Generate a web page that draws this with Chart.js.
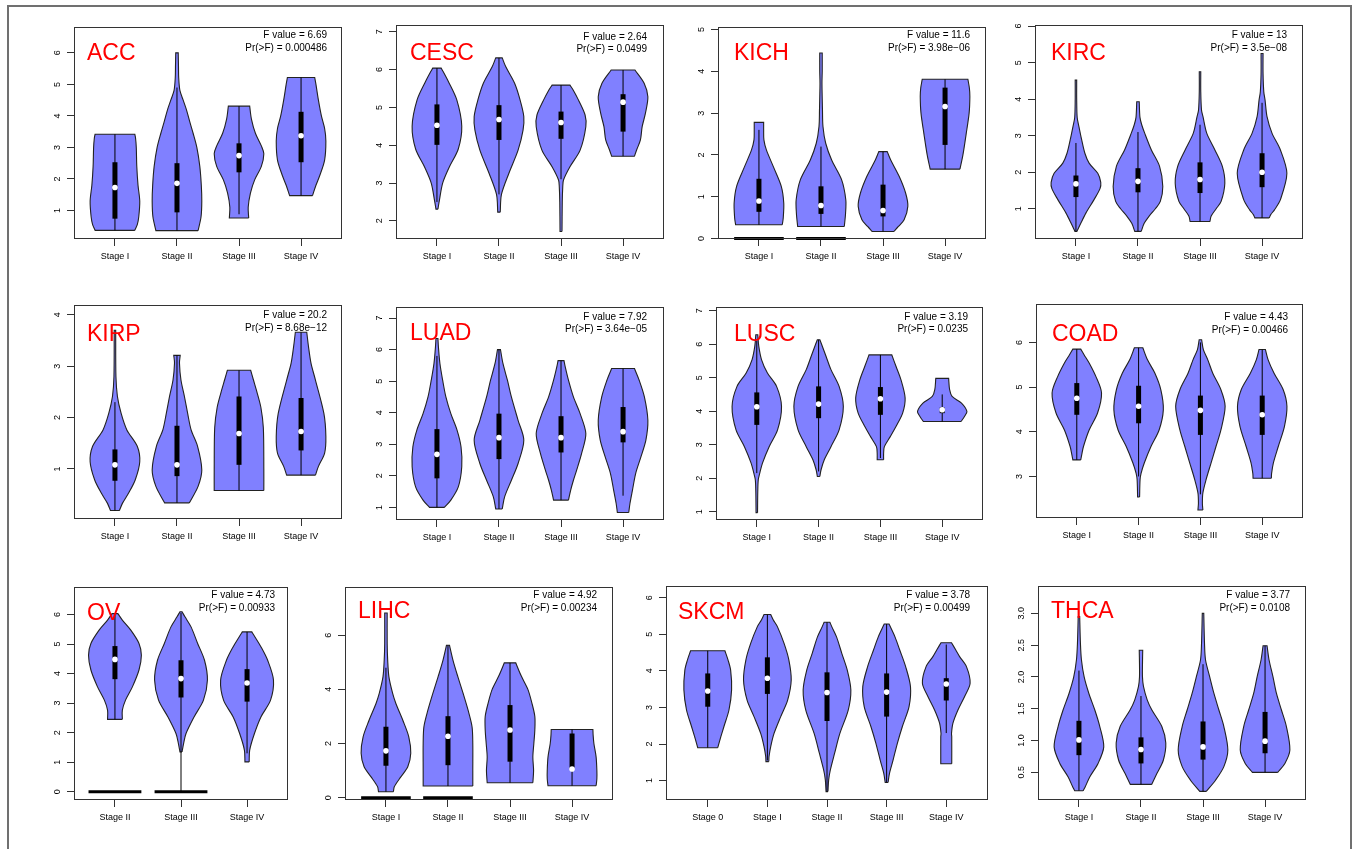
<!DOCTYPE html>
<html><head><meta charset="utf-8">
<script src="https://cdn.jsdelivr.net/npm/chart.js@4.4.1/dist/chart.umd.min.js"></script>
<style>
html,body{margin:0;padding:0;background:#fff;}
body{width:1354px;height:849px;position:relative;overflow:hidden;}
#frame{position:absolute;left:7px;top:5px;width:1345px;height:870px;border:2px solid #707070;box-sizing:border-box;}
canvas{position:absolute;}
</style></head><body><div id="frame"></div>
<script>
// ---------------- DATA ----------------
const cancerNames = ['ACC','CESC','KICH','KIRC','KIRP','LUAD','LUSC','COAD','OV','LIHC','SKCM','THCA'];
const stages4 = ['Stage I','Stage II','Stage III','Stage IV'];
const stagesOV = ['Stage II','Stage III','Stage IV'];
const stagesSKCM = ['Stage 0','Stage I','Stage II','Stage III','Stage IV'];
const stageLabels = [stages4,stages4,stages4,stages4,stages4,stages4,stages4,stages4,stagesOV,stages4,stagesSKCM,stages4];
const fValues = ['6.69','2.64','11.6','13','20.2','7.92','3.19','4.43','4.73','4.92','3.78','3.77'];
const pValues = ['0.000486','0.0499','3.98e\u221206','3.5e\u221208','8.68e\u221212','3.64e\u221205','0.0235','0.00466','0.00933','0.00234','0.00499','0.0108'];
const yTicks = [[1,2,3,4,5,6],[2,3,4,5,6,7],[0,1,2,3,4,5],[1,2,3,4,5,6],[1,2,3,4],[1,2,3,4,5,6,7],[1,2,3,4,5,6,7],[3,4,5,6],[0,1,2,3,4,5,6],[0,2,4,6],[1,2,3,4,5,6],[0.5,1,1.5,2,2.5,3]];
const yTickLabels = [['1','2','3','4','5','6'],['2','3','4','5','6','7'],['0','1','2','3','4','5'],['1','2','3','4','5','6'],['1','2','3','4'],['1','2','3','4','5','6','7'],['1','2','3','4','5','6','7'],['3','4','5','6'],['0','1','2','3','4','5','6'],['0','2','4','6'],['1','2','3','4','5','6'],['0.5','1.0','1.5','2.0','2.5','3.0']];
const yRanges = [[0.095,6.82],[1.52,7.18],[-0.01,5.06],[0.172,6.03],[0.026,4.19],[0.6,7.35],[0.75,7.11],[2.07,6.86],[-0.28,6.93],[-0.085,7.78],[0.47,6.32],[0.065,3.43]];

const q1Values = [[0.74,0.94,2.21,2.53],[4.01,4.14,4.17,4.36],[0.64,0.59,0.53,2.24],[1.32,1.45,1.43,1.59],[0.77,0.86,1.08,1.36],[1.92,2.53,2.74,3.06],[3.59,3.79,3.89,3.94],[4.38,4.19,3.93,3.93],[3.81,3.19,3.05],[1.18,1.2,1.33,1.08],[3.02,3.37,2.63,2.75,3.19],[0.77,0.64,0.7,0.8]];
const medianValues = [[1.73,1.86,2.74,3.37],[4.53,4.68,4.6,5.14],[0.9,0.79,0.67,3.16],[1.68,1.75,1.8,2.0],[1.08,1.08,1.69,1.73],[2.68,3.21,3.21,3.4],[4.13,4.21,4.37,4.04],[4.75,4.57,4.48,4.38],[4.48,3.83,3.68],[1.73,2.27,2.5,1.06],[3.45,3.8,3.41,3.42,3.64],[1.01,0.86,0.9,0.99]];
const q3Values = [[2.53,2.5,3.13,4.13],[5.08,5.06,4.89,5.35],[1.43,1.25,1.29,3.61],[1.91,2.11,2.27,2.52],[1.38,1.84,2.41,2.38],[3.48,3.97,3.89,4.18],[4.56,4.74,4.72,4.11],[5.09,5.03,4.81,4.81],[4.93,4.45,4.15],[2.62,3.01,3.42,2.37],[3.93,4.37,3.96,3.93,3.8],[1.31,1.05,1.3,1.45]];
const whiskerLow = [[0.37,0.36,0.88,1.47],[2.5,2.7,3.1,3.71],[0.33,0.29,0.17,1.66],[0.38,0.38,0.65,0.75],[0.19,0.34,0.58,0.88],[1.0,0.95,1.23,1.37],[2.15,2.2,2.6,3.69],[3.37,3.0,2.6,2.96],[2.45,0,1.3],[0.22,0.43,0.55,0.44],[1.9,1.55,0.7,0.95,2.3],[0.21,0.31,0.2,0.5]];
const whiskerHigh = [[3.42,4.9,4.31,5.22],[6.04,6.31,5.59,5.99],[2.6,2.2,2.08,3.81],[2.8,3.1,3.3,3.9],[2.3,3.21,2.92,3.66],[5.8,6.0,5.65,5.4],[6.1,6.13,5.68,4.5],[5.85,5.88,6.0,5.84],[6.03,6.06,5.41],[4.8,5.63,4.98,2.52],[4.55,5.54,5.33,5.28,4.72],[2.1,1.7,2.2,2.49]];
// groups that also have a zero-valued (flat) violin at y = 0
const zeroGroups = [[],[],[0,1],[],[],[],[],[],[0,1],[0,1],[],[]];

// density outlines: [value, relative half-width (1 = widest)]
const densityACC = [
 [[0.37,0.8],[0.55,0.9],[0.8,0.96],[1.3,1.0],[1.8,0.93],[2.4,0.88],[3.0,0.86],[3.3,0.83],[3.42,0.8]],
 [[0.36,0.85],[0.8,0.97],[1.3,1.0],[1.8,0.98],[2.4,0.92],[3.0,0.8],[3.45,0.65],[3.8,0.52],[4.2,0.38],[4.5,0.25],[4.8,0.12],[5.2,0.07],[5.6,0.06],[6.0,0.05]],
 [[0.76,0.39],[1.1,0.37],[1.55,0.46],[1.97,0.63],[2.4,0.9],[2.8,1.0],[3.05,0.9],[3.45,0.66],[3.9,0.5],[4.31,0.43]],
 [[1.47,0.46],[1.8,0.6],[2.1,0.75],[2.6,0.95],[3.2,1.0],[3.6,0.95],[4.0,0.82],[4.5,0.7],[5.0,0.6],[5.22,0.55]]
];
const densityCESC = [
 [[2.31,0.04],[2.55,0.1],[3.0,0.23],[3.4,0.48],[3.9,0.86],[4.5,1.0],[5.2,0.8],[5.7,0.45],[5.95,0.25],[6.04,0.17]],
 [[2.23,0.05],[2.7,0.1],[3.26,0.4],[3.87,0.77],[4.4,0.97],[4.76,1.0],[5.2,0.85],[5.64,0.63],[6.08,0.27],[6.31,0.13]],
 [[1.72,0.04],[2.5,0.05],[2.9,0.07],[3.08,0.1],[3.43,0.36],[3.87,0.77],[4.49,1.0],[4.8,0.97],[5.2,0.7],[5.45,0.5],[5.59,0.36]],
 [[3.71,0.46],[3.88,0.55],[4.14,0.7],[4.49,0.77],[4.84,0.9],[5.28,1.0],[5.64,0.85],[5.99,0.48]]
];
const densityKICH = [
 [[0.33,0.94],[0.5,0.98],[0.85,1.0],[1.25,0.9],[1.72,0.58],[2.12,0.3],[2.36,0.2],[2.6,0.19],[2.78,0.19]],
 [[0.29,0.94],[0.6,0.99],[0.93,1.0],[1.41,0.83],[1.88,0.43],[2.28,0.19],[2.68,0.08],[3.08,0.06],[3.71,0.04],[4.0,0.05],[4.44,0.05]],
 [[0.17,0.44],[0.29,0.62],[0.45,0.85],[0.77,1.0],[1.09,0.91],[1.49,0.65],[1.88,0.31],[2.08,0.17]],
 [[1.66,0.6],[2.0,0.72],[2.5,0.85],[3.0,0.97],[3.4,1.0],[3.6,0.98],[3.81,0.92]]
];
const densityKIRC = [
 [[0.38,0.04],[0.61,0.2],[0.88,0.4],[1.25,0.73],[1.55,0.97],[1.72,1.0],[1.97,0.88],[2.25,0.53],[2.52,0.36],[2.89,0.23],[3.25,0.12],[3.5,0.05],[4.0,0.03],[4.52,0.03]],
 [[0.38,0.13],[0.6,0.25],[0.8,0.45],[1.0,0.7],[1.2,0.9],[1.61,1.0],[2.16,0.87],[2.61,0.54],[3.07,0.27],[3.3,0.15],[3.5,0.08],[3.93,0.05]],
 [[0.65,0.4],[0.8,0.45],[1.0,0.65],[1.2,0.85],[1.7,1.0],[2.16,0.9],[2.61,0.6],[3.07,0.27],[3.52,0.12],[3.7,0.06],[4.2,0.03],[4.75,0.03]],
 [[0.75,0.29],[0.84,0.35],[0.97,0.5],[1.25,0.74],[1.97,1.0],[2.61,0.74],[3.07,0.4],[3.52,0.2],[3.98,0.12],[4.2,0.07],[4.7,0.04],[5.25,0.04]]
];
const densityKIRP = [
 [[0.19,0.18],[0.33,0.3],[0.53,0.55],[0.79,0.82],[1.14,1.0],[1.44,0.9],[1.76,0.48],[2.08,0.25],[2.41,0.1],[2.8,0.04],[3.7,0.03]],
 [[0.34,0.5],[0.66,0.85],[0.98,1.0],[1.44,0.83],[1.76,0.57],[2.08,0.43],[2.41,0.3],[2.73,0.16],[3.06,0.1],[3.21,0.13]],
 [[0.58,1.0],[1.0,1.0],[1.8,0.98],[2.2,0.88],[2.5,0.72],[2.75,0.57],[2.92,0.47]],
 [[0.88,0.58],[1.05,0.7],[1.31,0.95],[1.63,1.0],[2.08,0.92],[2.73,0.58],[3.06,0.4],[3.38,0.3],[3.66,0.23]]
];
const densityLUAD = [
 [[1.0,0.3],[1.23,0.56],[1.65,0.86],[2.29,1.0],[2.92,0.97],[3.45,0.81],[3.97,0.56],[4.5,0.36],[5.03,0.23],[5.56,0.12],[6.08,0.06],[6.35,0.04]],
 [[0.95,0.13],[1.34,0.23],[1.86,0.5],[2.39,0.77],[3.13,1.0],[3.76,0.77],[4.5,0.5],[5.03,0.34],[5.56,0.16],[6.0,0.06]],
 [[1.23,0.3],[1.55,0.39],[1.86,0.5],[2.18,0.63],[2.71,0.83],[3.34,1.0],[3.97,0.77],[4.5,0.5],[5.03,0.3],[5.45,0.17],[5.65,0.12]],
 [[0.84,0.23],[1.13,0.28],[1.55,0.38],[2.08,0.51],[2.6,0.72],[3.13,0.92],[3.76,1.0],[4.5,0.86],[5.03,0.65],[5.4,0.46]]
];
const densityLUSC = [
 [[0.97,0.03],[1.6,0.04],[1.95,0.06],[2.15,0.12],[2.45,0.23],[2.94,0.5],[3.44,0.84],[4.14,1.0],[4.74,0.8],[5.14,0.43],[5.54,0.19],[5.94,0.08],[6.28,0.04]],
 [[2.05,0.05],[2.25,0.1],[2.55,0.23],[2.94,0.5],[3.44,0.83],[4.14,1.0],[4.74,0.83],[5.24,0.5],[5.64,0.3],[5.94,0.15],[6.13,0.05]],
 [[2.55,0.13],[2.74,0.13],[2.94,0.16],[3.24,0.4],[3.54,0.63],[3.94,0.9],[4.39,1.0],[4.94,0.83],[5.34,0.63],[5.68,0.46]],
 [[3.69,0.76],[3.84,0.9],[3.99,1.0],[4.24,0.78],[4.44,0.4],[4.64,0.3],[4.98,0.26]]
];
const densityCOAD = [
 [[3.37,0.16],[3.49,0.2],[3.67,0.27],[4.04,0.5],[4.42,0.84],[4.87,1.0],[5.24,0.77],[5.54,0.5],[5.72,0.3],[5.85,0.16]],
 [[2.54,0.04],[2.93,0.06],[3.07,0.1],[3.3,0.23],[3.67,0.5],[4.04,0.83],[4.49,1.0],[4.94,0.9],[5.31,0.66],[5.61,0.36],[5.88,0.17]],
 [[2.25,0.1],[2.4,0.08],[2.63,0.1],[2.93,0.23],[3.3,0.43],[3.67,0.63],[4.04,0.83],[4.57,1.0],[4.94,0.83],[5.31,0.5],[5.61,0.3],[5.84,0.12],[6.06,0.05]],
 [[2.96,0.37],[3.07,0.38],[3.3,0.45],[3.67,0.65],[4.12,0.9],[4.57,1.0],[4.94,0.85],[5.31,0.48],[5.61,0.24],[5.84,0.13]]
];
const densityOV = [
 [[2.45,0.28],[2.76,0.28],[3.1,0.4],[3.55,0.66],[4.12,0.91],[4.62,1.0],[5.02,0.91],[5.47,0.6],[5.81,0.28],[6.03,0.11]],
 [[1.35,0.04],[1.64,0.1],[1.97,0.19],[2.54,0.5],[3.1,0.85],[3.78,1.0],[4.45,0.89],[5.02,0.63],[5.58,0.38],[5.92,0.15],[6.09,0.04]],
 [[1.01,0.08],[1.41,0.1],[1.97,0.28],[2.54,0.53],[3.1,0.89],[3.78,1.0],[4.45,0.78],[4.9,0.53],[5.24,0.3],[5.41,0.18]]
];
const densityLIHC = [
 [[0.22,0.3],[0.41,0.34],[0.77,0.6],[1.14,0.88],[1.64,1.0],[2.25,0.92],[2.86,0.68],[3.48,0.4],[3.85,0.27],[4.46,0.12],[5.08,0.07],[5.69,0.05],[6.82,0.05]],
 [[0.43,1.0],[1.0,1.0],[2.0,1.0],[2.62,0.97],[3.23,0.81],[3.85,0.61],[4.46,0.4],[5.08,0.2],[5.63,0.06]],
 [[0.55,0.92],[1.0,0.95],[1.5,0.92],[2.0,0.96],[2.5,1.0],[3.0,1.0],[3.5,0.88],[4.0,0.72],[4.5,0.45],[4.98,0.23]],
 [[0.44,0.97],[0.7,1.0],[1.0,1.0],[1.5,0.97],[2.0,0.88],[2.3,0.85],[2.52,0.84]]
];
const densitySKCM = [
 [[1.9,0.42],[2.2,0.55],[2.48,0.68],[2.93,0.89],[3.48,1.0],[4.02,0.96],[4.3,0.85],[4.55,0.72]],
 [[1.52,0.06],[1.66,0.07],[1.93,0.14],[2.29,0.28],[2.75,0.56],[3.2,0.85],[3.75,1.0],[4.3,0.9],[4.75,0.7],[5.21,0.42],[5.39,0.25],[5.54,0.14]],
 [[0.7,0.04],[1.02,0.07],[1.29,0.14],[1.75,0.32],[2.29,0.54],[2.93,0.89],[3.48,1.0],[4.02,0.85],[4.48,0.62],[4.93,0.4],[5.21,0.2],[5.33,0.12]],
 [[0.95,0.06],[1.2,0.12],[1.56,0.27],[2.02,0.45],[2.48,0.66],[3.02,0.94],[3.57,1.0],[4.11,0.8],[4.57,0.55],[4.93,0.35],[5.28,0.1]],
 [[1.46,0.23],[2.2,0.23],[2.29,0.22],[2.57,0.28],[2.93,0.49],[3.3,0.77],[3.66,1.0],[4.11,0.85],[4.39,0.56],[4.57,0.4],[4.77,0.22]]
];
const densityTHCA = [
 [[0.21,0.17],[0.27,0.25],[0.43,0.44],[0.64,0.77],[0.9,1.0],[1.22,0.84],[1.48,0.64],[1.74,0.4],[2.0,0.21],[2.27,0.1],[2.53,0.06],[2.95,0.03]],
 [[0.31,0.43],[0.48,0.64],[0.69,0.9],[0.96,1.0],[1.22,0.84],[1.48,0.44],[1.64,0.25],[1.85,0.1],[2.0,0.06],[2.2,0.06],[2.42,0.07]],
 [[0.2,0.13],[0.38,0.51],[0.59,0.84],[0.85,1.0],[1.22,0.84],[1.48,0.64],[1.74,0.44],[2.0,0.27],[2.27,0.1],[2.53,0.06],[3.0,0.03]],
 [[0.5,0.51],[0.64,0.8],[0.85,1.0],[1.22,0.86],[1.48,0.66],[1.74,0.46],[2.0,0.32],[2.27,0.16],[2.49,0.08]]
];
const densities = [densityACC,densityCESC,densityKICH,densityKIRC,densityKIRP,densityLUAD,densityLUSC,densityCOAD,densityOV,densityLIHC,densitySKCM,densityTHCA];

// ---------------- LAYOUT (page pixels) ----------------
const panelBoxes = [[74,27,342,239],[396,25,664,239],[718,27,986,239],[1035,25,1303,239],
                    [74,305,342,519],[396,307,664,520],[716,307,983,520],[1036,304,1303,518],
                    [74,587,288,800],[345,587,613,800],[666,586,988,800],[1038,586,1306,800]];
const titlePos = [[87,59.5],[410,59.5],[734,59.5],[1051,59.5],[87,340.5],[410,340],[734,340.5],[1052,340.5],[87,620],[358,618],[678,619],[1051,618]];
const statPos = [[327,38],[647,39.6],[970,38],[1287,38],[327,318],[647,319.6],[968,319.6],[1288,320.3],[275,598],[597,598],[970,598],[1290,598]];

const PADL = 45, PADT = 16, PADR = 16, PADB = 30;
const FONT = '"Liberation Sans", Arial, Helvetica, sans-serif';
const VIOLIN_FILL = 'rgb(128,128,255)';
const HALF = 0.4;

Chart.defaults.font.family = FONT;

const measureCtx = document.createElement('canvas').getContext('2d');
measureCtx.font = '9px ' + FONT;

function violinPoints(profile, c) {
  const right = profile.map(p => ({x: c + p[1] * HALF, y: p[0]}));
  const left = profile.slice().reverse().map(p => ({x: c - p[1] * HALF, y: p[0]}));
  const r0 = right[0], rn = right[right.length - 1];
  const ln = left[0], l0 = left[left.length - 1];
  return [r0].concat(right, [rn], [ln], left, [l0], [r0]);
}

function decorPlugin(i, offX, offY) {
  return {
    id: 'decor' + i,
    afterDraw(chart) {
      const ctx = chart.ctx, a = chart.chartArea;
      ctx.save();
      ctx.strokeStyle = '#333';
      ctx.lineWidth = 1;
      ctx.strokeRect(a.left + 0.5, a.top + 0.5, a.right - a.left - 1, a.bottom - a.top - 1);
      ctx.fillStyle = '#ff0000';
      ctx.font = '23px ' + FONT;
      ctx.textAlign = 'left';
      ctx.textBaseline = 'alphabetic';
      ctx.fillText(cancerNames[i], titlePos[i][0] - offX, titlePos[i][1] - offY);
      ctx.fillStyle = '#000';
      ctx.font = '10px ' + FONT;
      ctx.textAlign = 'right';
      ctx.fillText('F value = ' + fValues[i], statPos[i][0] - offX, statPos[i][1] - offY);
      ctx.fillText('Pr(>F) = ' + pValues[i], statPos[i][0] - offX, statPos[i][1] + 12.5 - offY);
      ctx.restore();
    }
  };
}

for (let i = 0; i < 12; i++) {
  const [L, T, R, B] = panelBoxes[i];
  const W = R - L + PADL + PADR, H = B - T + PADT + PADB;
  const cv = document.createElement('canvas');
  cv.width = W; cv.height = H;
  cv.style.left = (L - PADL) + 'px'; cv.style.top = (T - PADT) + 'px';
  cv.style.width = W + 'px'; cv.style.height = H + 'px';
  document.body.appendChild(cv);

  const labels = stageLabels[i];
  const n = labels.length;
  const datasets = [];
  densities[i].forEach((prof, k) => {
    datasets.push({data: violinPoints(prof, k + 1), fill: 'shape', backgroundColor: VIOLIN_FILL,
      borderColor: '#222', borderWidth: 1.1, pointRadius: 0, tension: 0.3, order: 5});
  });
  zeroGroups[i].forEach(k => {
    datasets.push({data: [{x: k + 1 - HALF, y: 0}, {x: k + 1 + HALF, y: 0}], borderColor: '#000',
      borderWidth: 3, pointRadius: 0, fill: false, order: 4, clip: false, borderCapStyle: 'butt'});
  });
  for (let k = 0; k < n; k++) {
    const c = k + 1;
    datasets.push({data: [{x: c, y: whiskerLow[i][k]}, {x: c, y: whiskerHigh[i][k]}], borderColor: '#000',
      borderWidth: 1, pointRadius: 0, fill: false, order: 3});
    datasets.push({data: [{x: c, y: q1Values[i][k]}, {x: c, y: q3Values[i][k]}], borderColor: '#000',
      borderWidth: 5, pointRadius: 0, fill: false, order: 2, borderCapStyle: 'butt'});
    datasets.push({data: [{x: c, y: medianValues[i][k]}], showLine: false, pointRadius: 2.8,
      pointBackgroundColor: '#fff', pointBorderColor: '#fff', pointBorderWidth: 0, order: 1});
  }

  let widest = 0;
  yTickLabels[i].forEach(s => { widest = Math.max(widest, measureCtx.measureText(s).width); });

  new Chart(cv, {
    type: 'line',
    data: {datasets},
    options: {
      responsive: false, animation: false, events: [],
      layout: {padding: {left: 0, top: PADT, right: PADR, bottom: 0}},
      plugins: {legend: {display: false}, tooltip: {enabled: false}},
      scales: {
        x: {
          type: 'linear', min: 0.5 - 0.04 * n, max: n + 0.5 + 0.04 * n,
          afterBuildTicks: s => { s.ticks = labels.map((_, k) => ({value: k + 1})); },
          afterFit: s => { s.height = PADB; },
          ticks: {autoSkip: false, minRotation: 0, maxRotation: 0, padding: 5, color: '#000',
            font: {size: 9, family: FONT}, callback: v => labels[Math.round(v) - 1]},
          grid: {drawOnChartArea: false, drawTicks: true, tickLength: 7, color: '#333', lineWidth: 1},
          border: {display: false}
        },
        y: {
          type: 'linear', min: yRanges[i][0], max: yRanges[i][1],
          afterBuildTicks: s => { s.ticks = yTicks[i].map(v => ({value: v})); },
          afterFit: s => { s.width = PADL; },
          ticks: {minRotation: 90, maxRotation: 90, crossAlign: 'center', padding: 9.5 - widest / 2,
            color: '#000', font: {size: 9, family: FONT},
            callback: (v, idx) => yTickLabels[i][idx]},
          grid: {drawOnChartArea: false, drawTicks: true, tickLength: 7, color: '#333', lineWidth: 1},
          border: {display: false}
        }
      }
    },
    plugins: [decorPlugin(i, L - PADL, T - PADT)]
  });
}
</script></body></html>
